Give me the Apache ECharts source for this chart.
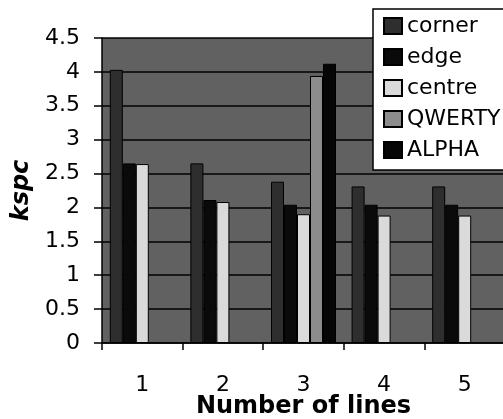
<!DOCTYPE html>
<html><head><meta charset="utf-8">
<script src="https://cdn.jsdelivr.net/npm/echarts@6/dist/echarts.min.js"></script>
<style>html,body{margin:0;padding:0;background:#fff}#c{width:503px;height:419px}</style>
</head><body><div id="c"></div>
<script>
const categories = ['1', '2', '3', '4', '5'];
const seriesNames = ['corner', 'edge', 'centre', 'QWERTY', 'ALPHA'];
const corner = [4.03, 2.65, 2.38, 2.31, 2.31];
const edge = [2.65, 2.11, 2.04, 2.04, 2.04];
const centre = [2.64, 2.08, 1.90, 1.88, 1.88];
const qwerty = [null, null, 3.94, null, null];
const alpha = [null, null, 4.12, null, null];
const yTicks = [0, 0.5, 1, 1.5, 2, 2.5, 3, 3.5, 4, 4.5];

const colors = ['#2e2e2e', '#0a0a0a', '#dadada', '#8c8c8c', '#060606'];
const values = [corner, edge, centre, qwerty, alpha];

const chart = echarts.init(document.getElementById('c'), null, {renderer: 'canvas'});
const font = 'DejaVu Sans';
chart.setOption({
  animation: false,
  backgroundColor: '#ffffff',
  grid: {left: 102, top: 38, width: 403, height: 305, show: true, backgroundColor: '#616161', borderWidth: 0,
         containLabel: false, outerBoundsMode: 'none'},
  legend: {
    orient: 'vertical', left: 373, top: 9,
    data: seriesNames.map(n => ({name: n, icon: 'rect'})),
    backgroundColor: '#ffffff', borderColor: '#000', borderWidth: 1.5,
    padding: [6, 20, 9, 10],
    itemWidth: 18, itemHeight: 16, itemGap: 9,
    textStyle: {fontFamily: font, fontSize: 22, color: '#000'}
  },
  xAxis: {
    type: 'category', data: categories,
    name: 'Number of lines', nameLocation: 'middle', nameGap: 52, nameMoveOverlap: false,
    nameTextStyle: {fontFamily: font, fontSize: 24, fontWeight: 'bold', color: '#000'},
    axisLine: {lineStyle: {color: '#000', width: 1.5}},
    axisTick: {show: true, length: 7, lineStyle: {color: '#000', width: 1.5}},
    axisLabel: {margin: 31, fontFamily: font, fontSize: 22, color: '#000'}
  },
  yAxis: {
    type: 'value', min: yTicks[0], max: yTicks[yTicks.length - 1], interval: 0.5,
    name: 'kspc', nameLocation: 'middle', nameGap: 68, nameMoveOverlap: false,
    nameTextStyle: {fontFamily: font, fontSize: 24, fontWeight: 'bold', fontStyle: 'italic', color: '#000'},
    axisLine: {show: true, lineStyle: {color: '#000', width: 1.5}},
    axisTick: {show: true, length: 8, lineStyle: {color: '#000', width: 1.5}},
    axisLabel: {margin: 22, fontFamily: font, fontSize: 22, color: '#000'},
    splitLine: {show: true, lineStyle: {color: '#000', width: 1.5}}
  },
  series: seriesNames.map((n, i) => ({
    name: n, type: 'bar', data: values[i],
    barWidth: 13, barGap: '0%',
    itemStyle: {color: colors[i], borderColor: '#000', borderWidth: 1}
  }))
});
</script></body></html>
